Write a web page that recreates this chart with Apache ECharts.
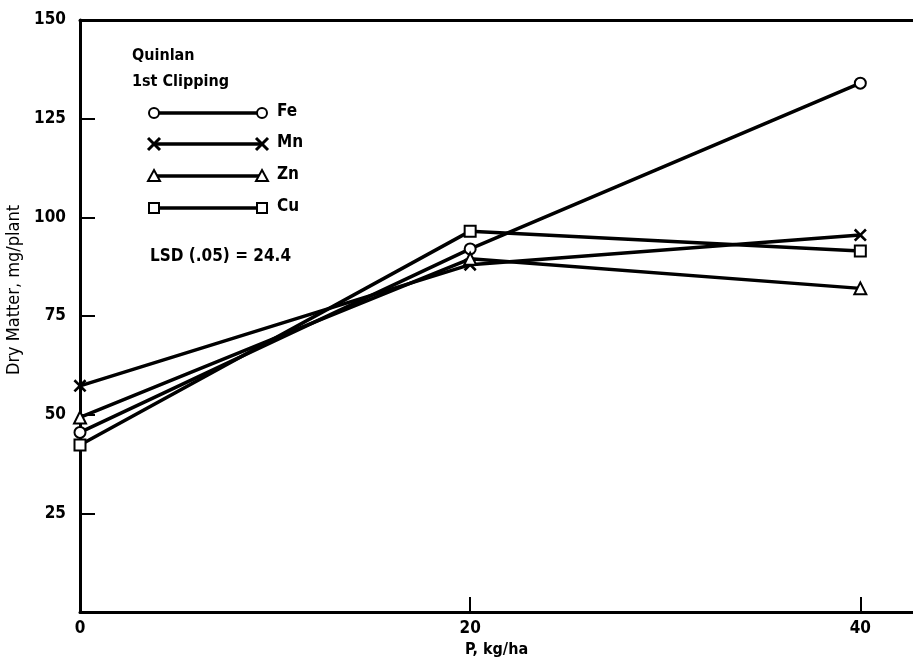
<!DOCTYPE html>
<html>
<head>
<meta charset="utf-8">
<script src="https://cdn.jsdelivr.net/npm/echarts@6/dist/echarts.min.js"></script>
<style>
  html, body { margin: 0; padding: 0; background: #fff; }
  #chart { width: 913px; height: 660px; }
</style>
</head>
<body>
<div id="chart"></div>
<script>
// Phosphorus rate (kg/ha)
const pRates = [0, 20, 40];
// Dry matter (mg/plant) by micronutrient treatment
const seriesNames = ['Fe', 'Mn', 'Zn', 'Cu'];
const feValues = [45.5, 92, 134];
const mnValues = [57.3, 88, 95.5];
const znValues = [49.3, 89.5, 82];
const cuValues = [42.3, 96.5, 91.5];
const yTicks = [25, 50, 75, 100, 125, 150];
const xTicks = [0, 20, 40];

const FONT = '"Liberation Sans Narrow", "DejaVu Sans Condensed", "Liberation Sans", sans-serif';
const crossPath = 'path://M0,1.4 L1.4,0 L5,3.6 L8.6,0 L10,1.4 L6.4,5 L10,8.6 L8.6,10 L5,6.4 L1.4,10 L0,8.6 L3.6,5 Z';

const symbols = ['emptyCircle', crossPath, 'emptyTriangle', 'emptyRect'];
const symbolSizes = [11, 13, 12, 11];
const valueSets = [feValues, mnValues, znValues, cuValues];

const series = seriesNames.map((name, i) => ({
  name,
  type: 'line',
  data: pRates.map((p, j) => [p, valueSets[i][j]]),
  symbol: symbols[i],
  symbolSize: symbolSizes[i],
  showAllSymbol: true,
  lineStyle: { color: '#000', width: 3.5 },
  itemStyle: { color: '#000', borderWidth: 2 },
  emphasis: { disabled: true },
  z: 3
}));

// Legend block drawn as graphics: a line with the marker at both ends
const legendY = [113, 144, 176, 208];
const lx0 = 154, lx1 = 262;
function marker(kind, cx, cy) {
  const st = { stroke: '#000', lineWidth: 2, fill: '#fff' };
  if (kind === 0) return { type: 'circle', shape: { cx, cy, r: 5 }, style: st, z: 10 };
  if (kind === 1) return { type: 'group', children: [
    { type: 'line', shape: { x1: cx - 6, y1: cy - 6, x2: cx + 6, y2: cy + 6 }, style: { stroke: '#000', lineWidth: 3 } },
    { type: 'line', shape: { x1: cx - 6, y1: cy + 6, x2: cx + 6, y2: cy - 6 }, style: { stroke: '#000', lineWidth: 3 } }
  ], z: 10 };
  if (kind === 2) return { type: 'polygon', shape: { points: [[cx, cy - 6], [cx + 6, cy + 5], [cx - 6, cy + 5]] }, style: st, z: 10 };
  return { type: 'rect', shape: { x: cx - 5, y: cy - 5, width: 10, height: 10 }, style: st, z: 10 };
}
const legendGraphics = [];
seriesNames.forEach((name, i) => {
  const y = legendY[i];
  legendGraphics.push({ type: 'line', shape: { x1: lx0, y1: y, x2: lx1, y2: y }, style: { stroke: '#000', lineWidth: 3.5 }, z: 9 });
  legendGraphics.push(marker(i, lx0, y));
  legendGraphics.push(marker(i, lx1, y));
  legendGraphics.push({ type: 'text', left: 277, top: y - 10, style: { text: name, font: 'bold 17px ' + FONT, fill: '#000' }, z: 10 });
});
legendGraphics.push({ type: 'text', left: 132, top: 48, style: { text: 'Quinlan', font: 'bold 16px ' + FONT, fill: '#000' } });
legendGraphics.push({ type: 'text', left: 132, top: 74, style: { text: '1st Clipping', font: 'bold 16px ' + FONT, fill: '#000' } });
legendGraphics.push({ type: 'text', left: 150, top: 248, style: { text: 'LSD (.05) = 24.4', font: 'bold 17px ' + FONT, fill: '#000' } });

const chart = echarts.init(document.getElementById('chart'), null, { renderer: 'canvas' });
chart.setOption({
  animation: false,
  backgroundColor: '#fff',
  grid: { left: 80, top: 20, right: 0, bottom: 48, containLabel: false, outerBoundsMode: 'none' },
  xAxis: [{
    type: 'value',
    min: 0,
    max: 42.7,
    interval: 20,
    name: 'P, kg/ha',
    nameLocation: 'middle',
    nameGap: 27,
    nameTextStyle: { fontFamily: FONT, fontWeight: 'bold', fontSize: 16, color: '#000' },
    axisLine: { show: true, onZero: false, lineStyle: { color: '#000', width: 3 } },
    axisTick: { show: true, inside: true, length: 15, lineStyle: { color: '#000', width: 2 } },
    axisLabel: {
      showMaxLabel: false,
      margin: 8,
      fontFamily: FONT, fontWeight: 'bold', fontSize: 17, color: '#000',
      formatter: v => (xTicks.indexOf(v) >= 0 ? String(v) : '')
    },
    splitLine: { show: false }
  }, {
    type: 'value',
    position: 'top',
    min: 0,
    max: 42.7,
    axisLine: { show: true, onZero: false, lineStyle: { color: '#000', width: 3 } },
    axisTick: { show: false },
    axisLabel: { show: false },
    splitLine: { show: false }
  }],
  yAxis: {
    type: 'value',
    min: 0,
    max: 150,
    interval: 25,
    name: 'Dry Matter, mg/plant',
    nameLocation: 'middle',
    nameGap: 55,
    nameTextStyle: { fontFamily: FONT, fontSize: 18, color: '#000', padding: [0, 0, 0, 52] },
    axisLine: { show: true, onZero: false, lineStyle: { color: '#000', width: 3 } },
    axisTick: { show: true, inside: true, length: 15, lineStyle: { color: '#000', width: 2 } },
    axisLabel: {
      margin: 14,
      fontFamily: FONT, fontWeight: 'bold', fontSize: 17, color: '#000',
      formatter: v => (yTicks.indexOf(v) >= 0 ? String(v) : '')
    },
    splitLine: { show: false }
  },
  graphic: legendGraphics,
  series
});
</script>
</body>
</html>
